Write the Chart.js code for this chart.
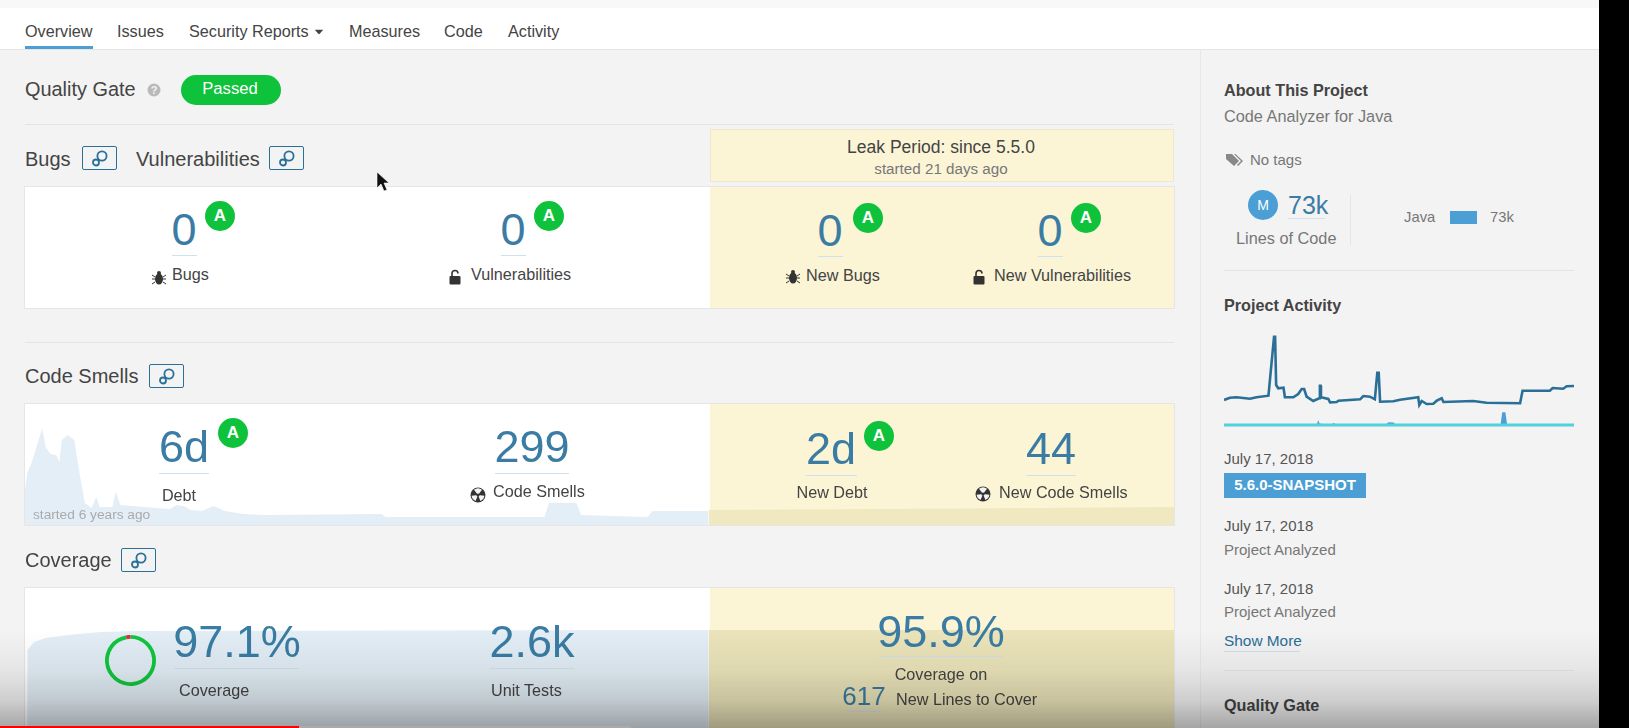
<!DOCTYPE html>
<html>
<head>
<meta charset="utf-8">
<title>Overview</title>
<script src="https://cdn.jsdelivr.net/npm/chart.js@4"></script>
<style>
  html, body { margin: 0; padding: 0; background: #f3f3f3; }
  #page { width: 1629px; height: 728px; overflow: hidden; position: relative; background: #f3f3f3; font-family: "Liberation Sans", sans-serif; color: #444; filter: blur(0.4px); }
  .t { position: absolute; white-space: nowrap; transform: translateY(-50%); font-size: 16.2px; line-height: 1.2; }
  .c { transform: translate(-50%, -50%); }
  .n { color: #3a7ca3; font-size: 45px; }
  .b { font-weight: bold; color: #444; }
  .g { color: #777; }
  .box { position: absolute; background: #fff; }
  .y { position: absolute; background: #fbf5d6; }
  .hr { position: absolute; height: 1px; background: #e4e4e4; }
  .ul { position: absolute; height: 1px; background: #cfe0ee; }
  .badge { position: absolute; width: 30px; height: 30px; border-radius: 50%; background: #0fc23c; color: #fff; font-size: 17px; font-weight: bold; text-align: center; line-height: 30px; transform: translate(-50%, -50%); }
  .lens { position: absolute; width: 33px; height: 22px; border: 1px solid #2a6f98; border-radius: 2px; background: #f3f3f3; }
  .lens svg { position: absolute; left: 8px; top: 3px; }
  canvas { position: absolute; }
  svg.i { position: absolute; transform: translate(-50%, -50%); }
</style>
</head>
<body>
<div id="page">

<!-- nav -->
<div class="box" style="left:0;top:0;width:1599px;height:8px;background:#f8f8f8"></div>
<div class="box" style="left:0;top:8px;width:1599px;height:41px;border-bottom:1px solid #e4e4e4"></div>
<div class="t" style="left:25px;top:32px">Overview</div>
<div class="t" style="left:117px;top:32px">Issues</div>
<div class="t" style="left:189px;top:32px">Security Reports</div>
<div class="t" style="left:349px;top:32px">Measures</div>
<div class="t" style="left:444px;top:32px">Code</div>
<div class="t" style="left:508px;top:32px">Activity</div>
<svg class="i" style="left:319px;top:32px" width="9" height="5"><path d="M0 0H9L4.5 5Z" fill="#444"/></svg>
<div class="box" style="left:25px;top:46px;width:68px;height:3px;background:#4b9fd5"></div>

<!-- quality gate -->
<div class="t" style="left:25px;top:90px;font-size:19.9px">Quality Gate</div>
<svg class="i" style="left:154px;top:90px" width="14" height="14"><circle cx="7" cy="7" r="6.5" fill="#b9b9b9"/><text x="7" y="11" font-size="11" font-weight="bold" text-anchor="middle" fill="#f3f3f3" font-family="Liberation Sans">?</text></svg>
<div class="box" style="left:181px;top:75px;width:100px;height:30px;border-radius:15px;background:#0fc23c"></div>
<div class="t c" style="left:230px;top:89px;color:#fff;font-size:16.7px">Passed</div>
<div class="hr" style="left:25px;top:124px;width:1149px"></div>

<!-- bugs header -->
<div class="t" style="left:25px;top:159px;font-size:20px">Bugs</div>
<div class="lens" style="left:82px;top:146px"><svg width="18" height="17"><use href="#lensIcon"/></svg></div>
<div class="t" style="left:136px;top:159px;font-size:20px">Vulnerabilities</div>
<div class="lens" style="left:269px;top:146px"><svg width="18" height="17"><use href="#lensIcon"/></svg></div>
<div class="y" style="left:710px;top:129px;width:464px;height:53px;border:1px solid #eee8cf;box-sizing:border-box"></div>
<div class="t c" style="left:941px;top:147px;font-size:17.5px">Leak Period: since 5.5.0</div>
<div class="t c g" style="left:941px;top:169px;font-size:15.2px">started 21 days ago</div>

<!-- bugs card -->
<div class="box" style="left:25px;top:187px;width:1149px;height:121px;outline:1px solid #e6e6e6"></div>
<div class="y" style="left:710px;top:187px;width:464px;height:121px"></div>
<div class="t c n" style="left:184px;top:230px">0</div>
<div class="ul" style="left:172px;top:255px;width:25px"></div>
<div class="badge" style="left:220px;top:216px">A</div>
<div class="t" style="left:172px;top:275px">Bugs</div>
<svg class="i" style="left:159px;top:278px" width="14" height="16"><use href="#bug"/></svg>
<div class="t c n" style="left:513px;top:230px">0</div>
<div class="ul" style="left:501px;top:255px;width:25px"></div>
<div class="badge" style="left:549px;top:216px">A</div>
<div class="t" style="left:471px;top:275px">Vulnerabilities</div>
<svg class="i" style="left:455px;top:277px" width="14" height="16"><use href="#lock"/></svg>
<div class="t c n" style="left:830px;top:231px">0</div>
<div class="ul" style="left:818px;top:256px;width:25px"></div>
<div class="badge" style="left:868px;top:218px">A</div>
<div class="t" style="left:806px;top:276px">New Bugs</div>
<svg class="i" style="left:793px;top:277px" width="14" height="16"><use href="#bug"/></svg>
<div class="t c n" style="left:1050px;top:231px">0</div>
<div class="ul" style="left:1038px;top:256px;width:25px"></div>
<div class="badge" style="left:1086px;top:218px">A</div>
<div class="t" style="left:994px;top:276px">New Vulnerabilities</div>
<svg class="i" style="left:979px;top:277px" width="14" height="16"><use href="#lock"/></svg>
<div class="hr" style="left:25px;top:342px;width:1149px"></div>

<!-- code smells card -->
<div class="t" style="left:25px;top:376px;font-size:20px">Code Smells</div>
<div class="lens" style="left:149px;top:364px"><svg width="18" height="17"><use href="#lensIcon"/></svg></div>
<div class="box" style="left:25px;top:404px;width:1149px;height:121px;outline:1px solid #e6e6e6"></div>
<div class="y" style="left:710px;top:404px;width:464px;height:121px"></div>
<canvas id="debtChart" style="left:25px;top:404px"></canvas>
<div class="t c n" style="left:184px;top:447px">6d</div>
<div class="ul" style="left:159px;top:473px;width:50px"></div>
<div class="badge" style="left:233px;top:433px">A</div>
<div class="t c" style="left:179px;top:496px">Debt</div>
<div class="t c n" style="left:532px;top:447px">299</div>
<div class="ul" style="left:495px;top:473px;width:74px"></div>
<div class="t" style="left:493px;top:492px">Code Smells</div>
<svg class="i" style="left:478px;top:495px" width="16" height="16"><use href="#smell"/></svg>
<div class="t" style="left:33px;top:515px;font-size:13.7px;color:#aaa">started 6 years ago</div>
<div class="t c n" style="left:831px;top:449px">2d</div>
<div class="ul" style="left:806px;top:475px;width:51px"></div>
<div class="badge" style="left:879px;top:436px">A</div>
<div class="t c" style="left:832px;top:493px">New Debt</div>
<div class="t c n" style="left:1051px;top:449px">44</div>
<div class="ul" style="left:1026px;top:475px;width:50px"></div>
<div class="t" style="left:999px;top:493px">New Code Smells</div>
<svg class="i" style="left:983px;top:494px" width="16" height="16"><use href="#smell"/></svg>

<!-- coverage card -->
<div class="t" style="left:25px;top:560px;font-size:20px">Coverage</div>
<div class="lens" style="left:121px;top:548px"><svg width="18" height="17"><use href="#lensIcon"/></svg></div>
<div class="box" style="left:25px;top:588px;width:1149px;height:140px;outline:1px solid #e6e6e6"></div>
<div class="y" style="left:710px;top:588px;width:464px;height:140px"></div>
<canvas id="coverageChart" style="left:25px;top:588px"></canvas>
<canvas id="donutChart" style="left:105px;top:635px"></canvas>
<div class="t c n" style="left:237px;top:642px">97.1%</div>
<div class="ul" style="left:174px;top:668px;width:125px"></div>
<div class="t" style="left:179px;top:691px">Coverage</div>
<div class="t c n" style="left:532px;top:642px">2.6k</div>
<div class="ul" style="left:490px;top:668px;width:84px"></div>
<div class="t" style="left:491px;top:691px">Unit Tests</div>
<div class="t c n" style="left:941px;top:632px">95.9%</div>
<div class="ul" style="left:878px;top:656px;width:125px"></div>
<div class="t c" style="left:941px;top:675px">Coverage on</div>
<div class="t c n" style="left:864px;top:697px;font-size:26px">617</div>
<div class="ul" style="left:847px;top:711px;width:35px"></div>
<div class="t" style="left:896px;top:700px">New Lines to Cover</div>

<!-- right column -->
<div class="box" style="left:1200px;top:49px;width:1px;height:679px;background:#e8e8e8"></div>
<div class="t b" style="left:1224px;top:91px">About This Project</div>
<div class="t g" style="left:1224px;top:117px;font-size:16.3px">Code Analyzer for Java</div>
<svg class="i" style="left:1235px;top:160px" width="18" height="14"><use href="#tag"/></svg>
<div class="t g" style="left:1250px;top:160px;font-size:15px">No tags</div>
<div class="badge" style="left:1263px;top:205px;background:#4b9fd5;font-size:14px;font-weight:normal">M</div>
<div class="t n" style="left:1288px;top:205px;font-size:25px">73k</div>
<div class="ul" style="left:1288px;top:218px;width:37px"></div>
<div class="t g" style="left:1236px;top:239px;font-size:16.3px">Lines of Code</div>
<div class="box" style="left:1350px;top:195px;width:1px;height:50px;background:#e4e4e4"></div>
<div class="t g" style="left:1404px;top:218px;font-size:14.8px">Java</div>
<canvas id="langChart" style="left:1450px;top:211px"></canvas>
<div class="t g" style="left:1490px;top:218px;font-size:14.8px">73k</div>
<div class="hr" style="left:1224px;top:270px;width:350px"></div>
<div class="t b" style="left:1224px;top:306px">Project Activity</div>
<canvas id="activityChart" style="left:1224px;top:330px"></canvas>
<div class="t" style="left:1224px;top:459px;font-size:15px;color:#555">July 17, 2018</div>
<div class="box" style="left:1224px;top:473px;width:142px;height:25px;background:#4b9fd5"></div>
<div class="t c" style="left:1295px;top:485px;color:#fff;font-weight:bold;font-size:15px">5.6.0-SNAPSHOT</div>
<div class="t" style="left:1224px;top:526px;font-size:15px;color:#555">July 17, 2018</div>
<div class="t g" style="left:1224px;top:550px;font-size:15px">Project Analyzed</div>
<div class="t" style="left:1224px;top:589px;font-size:15px;color:#555">July 17, 2018</div>
<div class="t g" style="left:1224px;top:612px;font-size:15px">Project Analyzed</div>
<div class="t" style="left:1224px;top:641px;color:#2a6f98;font-size:15.4px">Show More</div>
<div class="ul" style="left:1224px;top:651px;width:76px"></div>
<div class="hr" style="left:1224px;top:670px;width:350px"></div>
<div class="t b" style="left:1224px;top:706px">Quality Gate</div>

<!-- mouse pointer -->
<svg style="position:absolute;left:376px;top:171px" width="14" height="22"><path d="M1 1V17L5 13L8 20L11 19L8 12H13Z" fill="#111" stroke="#fff" stroke-width="0.6"/></svg>

<!-- video player shade on the bottom, black bar on the right -->
<div class="box" style="left:0;top:630px;width:1599px;height:98px;background:linear-gradient(rgba(0,0,0,0) 0%,rgba(0,0,0,0.05) 40%,rgba(0,0,0,0.15) 72%,rgba(0,0,0,0.32) 100%)"></div>
<div class="box" style="left:0;top:726px;width:631px;height:2px;background:#aaa"></div>
<div class="box" style="left:0;top:726px;width:299px;height:2px;background:#f00"></div>
<div class="box" style="left:1599px;top:0;width:30px;height:728px;background:#000"></div>

<svg width="0" height="0" style="position:absolute">
  <defs>
    <g id="lensIcon" fill="none" stroke="#2a6f98" stroke-width="1.8"><circle cx="11" cy="6" r="4.6"/><circle cx="5" cy="12.5" r="3"/></g>
    <g id="bug" fill="#333"><ellipse cx="7" cy="9" rx="4" ry="5.5"/><circle cx="7" cy="3" r="2"/><path d="M0 5L3 7M14 5L11 7M0 9H3M14 9H11M0 14L3 12M14 14L11 12" stroke="#333" fill="none"/></g>
    <g id="lock" fill="#333"><rect x="1.5" y="7" width="11" height="8.5" rx="1"/><path d="M4 7V4.5A3 3 0 0 1 10 4.5" fill="none" stroke="#333" stroke-width="1.6"/></g>
    <g id="smell"><circle cx="8" cy="8" r="7.5" fill="#333"/><path d="M8 8L4 2.8A6.5 6.5 0 0 1 12 2.8ZM8 8L14.4 8.8A6.5 6.5 0 0 1 10.4 14ZM8 8L5.6 14A6.5 6.5 0 0 1 1.6 8.8Z" fill="#f3f3f3"/><circle cx="8" cy="8" r="1.6" fill="#333"/></g>
    <g id="tag" fill="#888"><path d="M0 1H6L13 8L8 13L0 6Z"/><path d="M8 1H9.5L17 8L12 13L11 12L15 8Z"/></g>
  </defs>
</svg>

</div>

<script>
// x is the position on the timeline, 0 to 100
const debtX = [0, 0.2, 0.6, 1, 1.5, 1.8, 2.2, 2.7, 3, 3.2, 3.7, 4.3, 4.7, 5.2, 5.8, 6.2, 6.5, 7.6, 7.9, 8.3, 11.4, 12.6, 13.2, 13.8, 14.4, 15.4, 16.4, 17.4, 19, 20.8, 31, 31.4, 45.2, 45.6, 48, 48.4, 54.2, 54.6, 59.5];
const debtValues = [35, 52, 63, 78, 97, 78, 71, 70, 63, 85, 90, 85, 55, 22, 17, 28, 18, 18, 33, 20, 17, 16, 20, 19, 15, 14, 19, 14, 11, 10, 11, 8, 8, 22, 22, 10, 8, 14, 14];
const newDebtX = [59.5, 75, 100];
const newDebtValues = [15, 16, 18];

const coverageX = [0.2, 0.8, 1.8, 3.8, 6.6, 9.8, 32.6, 59.5];
const coverageValues = [78, 86, 90, 93, 96, 97, 97.5, 98];
const newCoverageX = [59.5, 100];
const newCoverageValues = [98, 98];
const coverageSplit = [97.1, 2.9];

const languages = ["Java"];
const languageLines = [73];

const activityX = [0, 1.7, 3.6, 7.4, 9.3, 12.7, 14.3, 14.6, 14.9, 15.5, 17, 17.4, 19.8, 21.2, 22.2, 22.9, 23.6, 25.5, 27.2, 27.4, 27.6, 27.7, 29.8, 30.3, 32.2, 32.7, 38.9, 39.8, 41.7, 43.1, 43.8, 44.2, 44.6, 48.4, 50.3, 55.5, 55.8, 56.5, 57.9, 59.8, 60.8, 62.2, 62.7, 71.2, 75, 84.6, 85.3, 93.1, 93.9, 96.9, 97.9, 100];
const activityValues = [30, 32.3, 32.7, 31.3, 32.7, 34.3, 93.3, 93.3, 45, 41.7, 42.3, 32.7, 32.7, 36, 41, 41, 33.3, 29, 31.7, 44.3, 44.3, 32.7, 31, 27.7, 28, 29.3, 30.7, 34, 33.3, 30.7, 57.3, 57.3, 28.3, 28.7, 30.3, 32.7, 25, 29, 26, 26.3, 29.3, 31.7, 28, 29, 27.3, 26.7, 39.3, 39.3, 42, 41.3, 43.7, 44];
const smellsX = [0, 10, 26.5, 26.9, 27.3, 30, 31.5, 32, 39.5, 39.8, 40, 46, 47, 48.5, 49, 57, 57.2, 57.4, 79, 79.5, 80.4, 80.9, 100];
const smellsValues = [5, 6, 5, 10, 6.5, 5, 7, 5, 5, 6.5, 5, 5, 7.7, 7.5, 5, 5, 6.5, 5, 5, 17.7, 17.7, 5, 5];
const testsX = [0, 100];
const testsValues = [5, 5];

function pontos(xs, ys) {
  return xs.map((x, i) => ({ x: x, y: ys[i] }));
}

function area(xs, ys, cor) {
  return { data: pontos(xs, ys), borderWidth: 0, pointRadius: 0, fill: "origin", backgroundColor: cor, tension: 0 };
}

function tamanho(id, w, h) {
  const c = document.getElementById(id);
  c.width = w;
  c.height = h;
  c.style.width = w + "px";
  c.style.height = h + "px";
  return c;
}

function grafico(id, w, h, yMax, datasets) {
  return new Chart(tamanho(id, w, h), {
    type: "line",
    data: { datasets: datasets },
    options: {
      responsive: false,
      animation: false,
      events: [],
      layout: { padding: 0 },
      plugins: { legend: { display: false }, tooltip: { enabled: false } },
      scales: {
        x: { type: "linear", min: 0, max: 100, display: false },
        y: { min: 0, max: yMax, display: false }
      }
    }
  });
}

grafico("debtChart", 1149, 121, 121, [
  area(debtX, debtValues, "#e4eef7"),
  area(newDebtX, newDebtValues, "#efe8c0")
]);

grafico("coverageChart", 1149, 140, 140, [
  area(coverageX, coverageValues, "#e2edf5"),
  area(newCoverageX, newCoverageValues, "#ebe4ba")
]);

new Chart(tamanho("donutChart", 51, 51), {
  type: "doughnut",
  data: { datasets: [{ data: coverageSplit, backgroundColor: ["#10c63d", "#d4333f"], borderWidth: 0 }] },
  options: {
    responsive: false,
    animation: false,
    events: [],
    cutout: "85%",
    plugins: { legend: { display: false }, tooltip: { enabled: false } }
  }
});

new Chart(tamanho("langChart", 27, 13), {
  type: "bar",
  data: { labels: languages, datasets: [{ data: languageLines, backgroundColor: "#4b9fd5", barPercentage: 1, categoryPercentage: 1 }] },
  options: {
    indexAxis: "y",
    responsive: false,
    animation: false,
    events: [],
    plugins: { legend: { display: false }, tooltip: { enabled: false } },
    scales: {
      x: { min: 0, max: 73, display: false },
      y: { display: false }
    }
  }
});

grafico("activityChart", 350, 100, 100, [
  { data: pontos(testsX, testsValues), borderColor: "#4fd2dc", borderWidth: 3, pointRadius: 0, tension: 0, clip: false },
  { data: pontos(smellsX, smellsValues), borderWidth: 0, pointRadius: 0, backgroundColor: "#4b9fd5", fill: { value: 5 }, tension: 0 },
  { data: pontos(activityX, activityValues), borderColor: "#2a6f98", borderWidth: 2.6, pointRadius: 0, tension: 0, clip: false }
]);
</script>
</body>
</html>
